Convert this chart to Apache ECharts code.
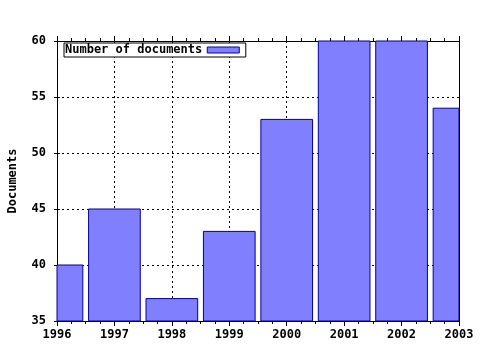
<!DOCTYPE html>
<html><head><meta charset="utf-8">
<script src="https://cdn.jsdelivr.net/npm/echarts@6/dist/echarts.min.js"></script>
<style>html,body{margin:0;padding:0;background:#fff}#c{width:480px;height:350px}</style>
</head><body><div id="c"></div>
<script>
var years = [1996, 1997, 1998, 1999, 2000, 2001, 2002, 2003];
var documents = [40, 45, 37, 43, 53, 60, 60, 54];
var seriesName = 'Number of documents';
var yAxisName = 'Documents';

var FONT = 'DejaVu Sans Mono';
var txt = {fontFamily: FONT, fontWeight: 'bold', fontSize: 12, color: '#000'};
var BAR_FILL = '#8080ff', BAR_LINE = '#000099';
var chart = echarts.init(document.getElementById('c'), null, {renderer: 'canvas'});
var data = years.map(function (y, i) { return [y, documents[i]]; });
var Y_MIN = 35, Y_MAX = 60;
var DOT = {color: '#000', type: [2, 3]};
chart.setOption({
  animation: false,
  backgroundColor: '#fff',
  grid: {left: 57, right: 21, top: 41, bottom: 29, containLabel: false, outerBoundsMode: 'none'},
  legend: {
    data: [{name: seriesName, icon: 'rect', itemStyle: {color: BAR_FILL, borderColor: BAR_LINE, borderWidth: 1}}],
    left: 64, top: 43, orient: 'horizontal', align: 'right',
    backgroundColor: '#fff', borderColor: '#000', borderWidth: 1, padding: [1, 6, 1, 1],
    itemWidth: 32, itemHeight: 6, itemGap: 5,
    textStyle: txt
  },
  xAxis: [{
    type: 'value', min: years[0], max: years[years.length - 1], interval: 1, position: 'bottom',
    axisLine: {show: true, lineStyle: {color: '#000'}},
    axisTick: {show: true, inside: false, length: 5, lineStyle: {color: '#000'}},
    minorTick: {show: true, splitNumber: 4, length: 3, lineStyle: {color: '#000'}},
    splitLine: {show: true, lineStyle: DOT},
    axisLabel: Object.assign({margin: 8, formatter: function (v) { return String(v); }}, txt)
  }, {
    type: 'value', min: years[0], max: years[years.length - 1], interval: 1, position: 'top',
    axisLine: {show: true, lineStyle: {color: '#000'}},
    axisTick: {show: true, inside: false, length: 5, lineStyle: {color: '#000'}},
    minorTick: {show: true, splitNumber: 4, length: 3, lineStyle: {color: '#000'}},
    splitLine: {show: false}, axisLabel: {show: false}
  }],
  yAxis: [{
    type: 'value', min: Y_MIN, max: Y_MAX, interval: 5, position: 'left',
    name: yAxisName, nameLocation: 'middle', nameGap: 38, nameRotate: 90,
    nameTextStyle: txt,
    axisLine: {show: true, lineStyle: {color: '#000'}},
    axisTick: {show: true, inside: false, length: 3, lineStyle: {color: '#000'}},
    splitLine: {show: true, lineStyle: DOT},
    axisLabel: Object.assign({margin: 11}, txt)
  }, {
    type: 'value', min: Y_MIN, max: Y_MAX, interval: 5, position: 'right',
    axisLine: {show: true, lineStyle: {color: '#000'}},
    axisTick: {show: false}, splitLine: {show: false}, axisLabel: {show: false}
  }, {
    type: 'value', min: Y_MIN, max: Y_MAX, interval: 5, position: 'left', offset: 0,
    axisLine: {show: false},
    axisTick: {show: true, inside: true, length: 3, lineStyle: {color: '#000'}},
    splitLine: {show: false}, axisLabel: {show: false}
  }],
  series: [{
    name: seriesName, type: 'custom', xAxisIndex: 0, yAxisIndex: 0, z: 3,
    data: data,
    itemStyle: {color: BAR_FILL, borderColor: BAR_LINE, borderWidth: 1},
    renderItem: function (params, api) {
      var x = api.value(0), v = api.value(1);
      var top = api.coord([x, v]);
      var base = api.coord([x, Y_MIN]);
      var w = api.size([1, 0])[0] * 0.9;
      var rect = echarts.graphic.clipRectByRect(
        {x: top[0] - w / 2, y: top[1], width: w, height: base[1] - top[1]},
        {x: params.coordSys.x, y: params.coordSys.y, width: params.coordSys.width, height: params.coordSys.height}
      );
      if (!rect) return null;
      return {type: 'rect', shape: rect,
        style: {fill: BAR_FILL, stroke: BAR_LINE, lineWidth: 1}};
    }
  }]
});
</script></body></html>
